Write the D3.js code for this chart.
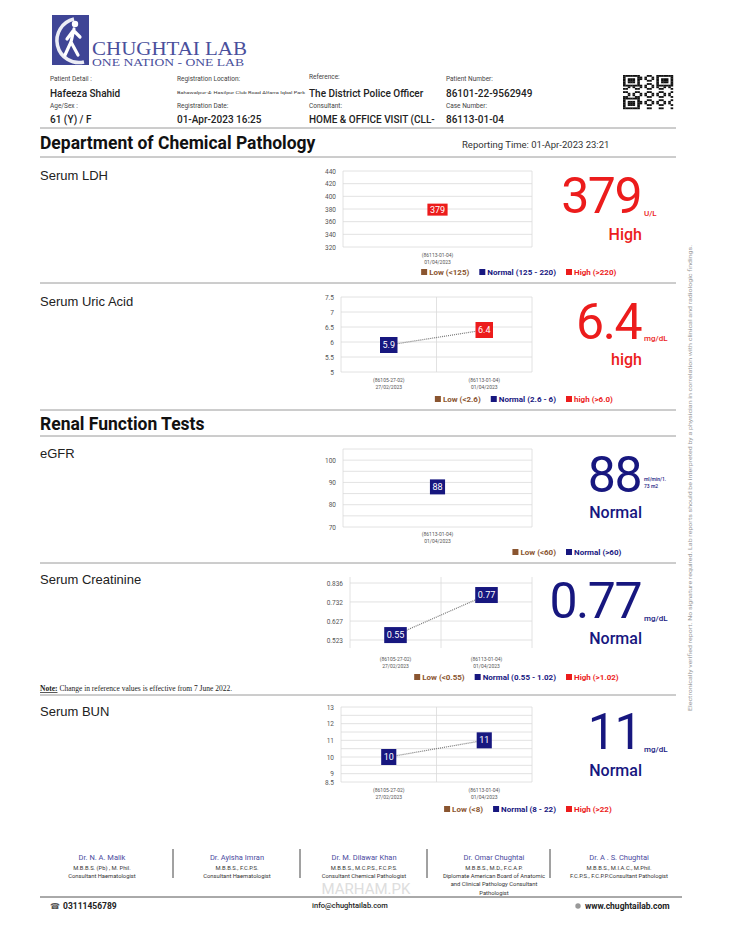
<!DOCTYPE html>
<html>
<head>
<meta charset="utf-8">
<script src="https://cdn.jsdelivr.net/npm/d3@7"></script>
<style>
  body { margin: 0; background: #fff; }
  text { font-family: Roboto, "Liberation Sans", sans-serif; }
</style>
</head>
<body>
<div class="chart"></div>
<script>
// ---- report data ----
const ldhCases = ["(86113-01-04)"];
const ldhDates = ["01/04/2023"];
const ldhValues = [379];
const ldhStatus = ["High"];
const ldhTicks = [320, 340, 360, 380, 400, 420, 440];
const ldhLegend = ["Low (<125)", "Normal (125 - 220)", "High (>220)"];

const uricCases = ["(86105-27-02)", "(86113-01-04)"];
const uricDates = ["27/02/2023", "01/04/2023"];
const uricValues = [5.9, 6.4];
const uricStatus = ["Normal", "High"];
const uricTicks = [5, 5.5, 6, 6.5, 7, 7.5];
const uricLegend = ["Low (<2.6)", "Normal (2.6 - 6)", "high (>6.0)"];

const egfrCases = ["(86113-01-04)"];
const egfrDates = ["01/04/2023"];
const egfrValues = [88];
const egfrStatus = ["Normal"];
const egfrTicks = [70, 80, 90, 100];
const egfrGrid = [70, 75, 80, 85, 90, 95, 100, 105];
const egfrLegend = ["Low (<60)", "Normal (>60)"];

const creatCases = ["(86105-27-02)", "(86113-01-04)"];
const creatDates = ["27/02/2023", "01/04/2023"];
const creatValues = [0.55, 0.77];
const creatStatus = ["Normal", "Normal"];
const creatTicks = [0.523, 0.627, 0.732, 0.836];
const creatLegend = ["Low (<0.55)", "Normal (0.55 - 1.02)", "High (>1.02)"];

const bunCases = ["(86105-27-02)", "(86113-01-04)"];
const bunDates = ["27/02/2023", "01/04/2023"];
const bunValues = [10, 11];
const bunStatus = ["Normal", "Normal"];
const bunTicks = [8.5, 9, 10, 11, 12, 13];
const bunGrid = [8.5, 9, 9.5, 10, 10.5, 11, 11.5, 12, 12.5, 13];
const bunLegend = ["Low (<8)", "Normal (8 - 22)", "High (>22)"];

const doctorNames = ["Dr. N. A. Malik", "Dr. Ayisha Imran", "Dr. M. Dilawar Khan", "Dr. Omar Chughtai", "Dr. A . S. Chughtai"];
const doctorLines = [
  ["M.B.B.S. (Pb) , M. Phil.", "Consultant Haematologist"],
  ["M.B.B.S., F.C.P.S.", "Consultant Haematologist"],
  ["M.B.B.S., M.C.P.S., F.C.P.S.", "Consultant Chemical Pathologist"],
  ["M.B.B.S., M.D., F.C.A.P.", "Diplomate American Board of Anatomic", "and Clinical Pathology Consultant", "Pathologist"],
  ["M.B.B.S., M.I.A.C., M.Phil.", "F.C.P.S., F.C.P.P.Consultant Pathologist"]
];

const RED = "#ec1c1c", NAVY = "#17177f", BROWN = "#8a5530";
const statusColor = s => s.toLowerCase() === "high" ? RED : (s.toLowerCase() === "low" ? BROWN : NAVY);
const legendColors = [BROWN, NAVY, RED];

const svg = d3.select(".chart").append("svg")
  .attr("width", 750)
  .attr("height", 938);

svg.append("rect").attr("width", 750).attr("height", 938).attr("fill", "#fff");

// ---- logo ----
const logo = svg.append("g");
logo.append("rect").attr("x", 52).attr("y", 15).attr("width", 37).attr("height", 50).attr("fill", "#3f4596");
logo.append("path")
  .attr("d", "M74,19 A21,21 0 0,0 84,62")
  .attr("stroke", "#fff").attr("stroke-width", 3.5).attr("fill", "none").attr("opacity", 0.9);
logo.append("circle").attr("cx", 75).attr("cy", 24).attr("r", 3.2).attr("fill", "#fff");
logo.append("path")
  .attr("d", "M74,29 L71,42 L65,55 M71,42 L78,55 M73,31 L67,39 M74,31 L80,37")
  .attr("stroke", "#fff").attr("stroke-width", 3.2).attr("stroke-linecap", "round").attr("fill", "none");
logo.append("text").attr("x", 92).attr("y", 55)
  .attr("font-size", 18).attr("fill", "#4a4f9c")
  .attr("textLength", 155).attr("lengthAdjust", "spacingAndGlyphs")
  .style("font-family", "'Liberation Serif', serif")
  .text("CHUGHTAI LAB");
logo.append("text").attr("x", 92).attr("y", 66)
  .attr("font-size", 9.5).attr("fill", "#4a4f9c")
  .attr("textLength", 152).attr("lengthAdjust", "spacingAndGlyphs")
  .style("font-family", "'Liberation Serif', serif")
  .text("ONE NATION - ONE LAB");

// ---- patient details ----
const infoLabels = [
  [50, 81, "Patient Detail :"], [177, 81, "Registration Location:"], [309, 79, "Reference:"], [446, 81, "Patient Number:"],
  [50, 108, "Age/Sex :"], [177, 108, "Registration Date:"], [309, 108, "Consultant:"], [446, 108, "Case Number:"]
];
const infoValues = [
  [50, 97, "Hafeeza Shahid"], [309, 97, "The District Police Officer"], [446, 97, "86101-22-9562949"],
  [50, 123, "61 (Y) / F"], [177, 123, "01-Apr-2023 16:25"], [309, 123, "HOME & OFFICE VISIT (CLL-"], [446, 123, "86113-01-04"]
];
svg.selectAll(".infoLabel").data(infoLabels).enter().append("text")
  .attr("x", d => d[0]).attr("y", d => d[1])
  .attr("font-size", 6.5).attr("fill", "#444")
  .text(d => d[2]);
svg.selectAll(".infoValue").data(infoValues).enter().append("text")
  .attr("x", d => d[0]).attr("y", d => d[1])
  .attr("font-size", 10).attr("font-weight", 500).attr("fill", "#222")
  .text(d => d[2]);
svg.append("text").attr("x", 177).attr("y", 94)
  .attr("font-size", 4).attr("fill", "#333")
  .attr("textLength", 128).attr("lengthAdjust", "spacingAndGlyphs")
  .text("Bahawalpur-4: Hasilpur Club Road Alfarra Iqbal Park");

// qr code (decorative)
const qr = svg.append("g").attr("transform", "translate(623,75)");
const qn = 21, qw = 50 / qn, qh = 34 / qn;
for (let i = 0; i < qn; i++) {
  for (let j = 0; j < qn; j++) {
    const inFinder = (i < 7 && j < 7) || (i < 7 && j >= qn - 7) || (i >= qn - 7 && j < 7);
    let on;
    if (inFinder) {
      const ii = i >= qn - 7 ? i - (qn - 7) : i, jj = j >= qn - 7 ? j - (qn - 7) : j;
      on = ii === 0 || ii === 6 || jj === 0 || jj === 6 || (ii >= 2 && ii <= 4 && jj >= 2 && jj <= 4);
    } else {
      on = ((i * 7 + j * 11 + i * j) % 5) < 2;
    }
    if (on) qr.append("rect").attr("x", j * qw).attr("y", i * qh).attr("width", qw + 0.2).attr("height", qh + 0.2).attr("fill", "#111");
  }
}

// ---- headings and separators ----
const sepLines = [128, 157, 283, 410, 436, 563, 695];
svg.selectAll(".sep").data(sepLines).enter().append("line")
  .attr("x1", 40).attr("x2", 676).attr("y1", d => d).attr("y2", d => d)
  .attr("stroke", "#9a9a9a").attr("stroke-width", 1);

svg.append("text").attr("x", 40).attr("y", 149)
  .attr("font-size", 17.5).attr("font-weight", 700).attr("fill", "#111")
  .text("Department of Chemical Pathology");
svg.append("text").attr("x", 462).attr("y", 148)
  .attr("font-size", 9.5).attr("fill", "#333")
  .text("Reporting Time:  01-Apr-2023 23:21");
svg.append("text").attr("x", 40).attr("y", 430)
  .attr("font-size", 17.5).attr("font-weight", 700).attr("fill", "#111")
  .text("Renal Function Tests");

// ---- one test block ----
function drawTest(t) {
  const g = svg.append("g");
  const x = d3.scaleBand().domain(t.cases).range([t.left, t.right]);
  const y = d3.scaleLinear().domain(t.domain).range([t.bottom, t.top]);

  g.append("text").attr("x", 40).attr("y", t.titleY)
    .attr("font-size", 13).attr("fill", "#222")
    .style("font-family", "'Liberation Sans', Arial, sans-serif")
    .text(t.title);

  // gridlines
  g.selectAll(".grid").data(t.grid).enter().append("line")
    .attr("x1", t.left).attr("x2", t.right)
    .attr("y1", d => y(d)).attr("y2", d => y(d))
    .attr("stroke", "#dadada").attr("stroke-width", 0.8);
  const edges = [t.left, t.right].concat(t.cases.slice(1).map(c => x(c)));
  g.selectAll(".vgrid").data(edges).enter().append("line")
    .attr("x1", d => d).attr("x2", d => d)
    .attr("y1", t.top).attr("y2", t.bottom)
    .attr("stroke", "#dadada").attr("stroke-width", 0.8);

  // y axis
  const yAxis = d3.axisLeft(y).tickValues(t.ticks).tickSize(0).tickPadding(7).tickFormat(d => d);
  g.append("g").attr("transform", `translate(${t.left},0)`).call(yAxis)
    .call(a => a.select(".domain").remove())
    .selectAll("text").attr("font-size", 6.5).attr("fill", "#555");

  // x axis, two-line labels
  const xAxis = d3.axisBottom(x).tickSize(0).tickPadding(0);
  const xg = g.append("g").attr("transform", `translate(0,${t.xLabelY})`).call(xAxis);
  xg.select(".domain").remove();
  xg.selectAll("text").attr("font-size", 5).attr("fill", "#555").attr("dy", 0)
    .each(function (d, i) {
      d3.select(this).append("tspan").attr("x", 0).attr("dy", 7).text(t.dates[i]);
    });

  const pts = t.values.map((v, i) => [x(t.cases[i]) + x.bandwidth() / 2, y(v)]);
  if (pts.length > 1) {
    g.append("path").attr("d", d3.line()(pts))
      .attr("stroke", "#777").attr("stroke-width", 1.2)
      .attr("stroke-dasharray", "1,1").attr("fill", "none");
  }

  // value boxes
  t.values.forEach((v, i) => {
    const bx = g.append("g").attr("transform", `translate(${pts[i][0]},${pts[i][1]})`);
    const r = bx.append("rect").attr("fill", statusColor(t.status[i]));
    const tx = bx.append("text").attr("text-anchor", "middle").attr("dy", "0.35em")
      .attr("font-size", t.boxFont).attr("fill", "#fff").text(v);
    const w = tx.node().getComputedTextLength() + 5;
    r.attr("x", -w / 2).attr("y", -t.boxH / 2).attr("width", w).attr("height", t.boxH);
  });

  // legend, laid out right to left with last item at x=566
  const items = t.legend.map((l, i) => ({ label: l, color: legendColors[i] }));
  let nextX = 566;
  for (let i = items.length - 1; i >= 0; i--) {
    const it = g.append("g");
    const tx = it.append("text").attr("x", 8).attr("y", 3)
      .attr("font-size", 8).attr("font-weight", 700).attr("fill", items[i].color).text(items[i].label);
    it.append("rect").attr("x", 0).attr("y", -3).attr("width", 6).attr("height", 6).attr("fill", items[i].color);
    const w = 8 + tx.node().getComputedTextLength();
    const startX = i === items.length - 1 ? nextX : nextX - 10 - w;
    it.attr("transform", `translate(${startX},${t.legendY})`);
    nextX = startX;
  }

  // big result
  const last = t.values[t.values.length - 1];
  const col = statusColor(t.status[t.status.length - 1]);
  g.append("text").attr("x", 641).attr("y", t.bigY).attr("text-anchor", "end")
    .attr("font-size", 50).attr("letter-spacing", -1.5).attr("fill", col).text(last);
  t.unit.forEach((u, i) => {
    g.append("text").attr("x", 644).attr("y", t.unitY + i * 7)
      .attr("font-size", t.unitFont).attr("font-weight", 500).attr("fill", col).text(u);
  });
  g.append("text").attr("x", 642).attr("y", t.statusY).attr("text-anchor", "end")
    .attr("font-size", 16).attr("font-weight", 500).attr("fill", col).text(t.statusText);
}

drawTest({ title: "Serum LDH", titleY: 180, cases: ldhCases, dates: ldhDates, values: ldhValues, status: ldhStatus,
  ticks: ldhTicks, grid: ldhTicks, domain: [320, 440], legend: ldhLegend,
  left: 343, right: 532, top: 171, bottom: 247, xLabelY: 257, legendY: 272, boxH: 12, boxFont: 9,
  bigY: 213, unit: ["U/L"], unitY: 216, unitFont: 8, statusY: 240, statusText: "High" });

drawTest({ title: "Serum Uric Acid", titleY: 306, cases: uricCases, dates: uricDates, values: uricValues, status: uricStatus,
  ticks: uricTicks, grid: uricTicks, domain: [5, 7.5], legend: uricLegend,
  left: 341, right: 532, top: 297, bottom: 372, xLabelY: 382, legendY: 399, boxH: 16, boxFont: 9,
  bigY: 339, unit: ["mg/dL"], unitY: 341, unitFont: 8, statusY: 365, statusText: "high" });

drawTest({ title: "eGFR", titleY: 458, cases: egfrCases, dates: egfrDates, values: egfrValues, status: egfrStatus,
  ticks: egfrTicks, grid: egfrGrid, domain: [70, 105], legend: egfrLegend,
  left: 343, right: 532, top: 449, bottom: 527, xLabelY: 536, legendY: 552, boxH: 15, boxFont: 9,
  bigY: 492, unit: ["ml/min/1.", "73 m2"], unitY: 481, unitFont: 5, statusY: 518, statusText: "Normal" });

drawTest({ title: "Serum Creatinine", titleY: 584, cases: creatCases, dates: creatDates, values: creatValues, status: creatStatus,
  ticks: creatTicks, grid: creatTicks, domain: [0.479, 0.869], legend: creatLegend,
  left: 350, right: 532, top: 577, bottom: 648, xLabelY: 661, legendY: 677, boxH: 16, boxFont: 9,
  bigY: 618, unit: ["mg/dL"], unitY: 621, unitFont: 8, statusY: 644, statusText: "Normal" });

drawTest({ title: "Serum BUN", titleY: 716, cases: bunCases, dates: bunDates, values: bunValues, status: bunStatus,
  ticks: bunTicks, grid: bunGrid, domain: [8.5, 13], legend: bunLegend,
  left: 341, right: 532, top: 707, bottom: 782, xLabelY: 792, legendY: 809, boxH: 16, boxFont: 9,
  bigY: 749, unit: ["mg/dL"], unitY: 752, unitFont: 8, statusY: 776, statusText: "Normal" });

// note
const note = svg.append("text").attr("x", 40).attr("y", 691)
  .attr("font-size", 7.5).attr("fill", "#222")
  .style("font-family", "'Liberation Serif', serif");
note.append("tspan").attr("font-weight", 700).attr("text-decoration", "underline").text("Note:");
note.append("tspan").text(" Change in reference values is effective from 7 June 2022.");

// side disclaimer
svg.append("text")
  .attr("transform", "translate(692,478) rotate(-90)")
  .attr("text-anchor", "middle").attr("font-size", 6).attr("fill", "#9a9a9a")
  .attr("textLength", 466).attr("lengthAdjust", "spacingAndGlyphs")
  .text("Electronically verified report. No signature required. Lab reports should be interpreted by a physician in correlation with clinical and radiologic findings.");

// ---- footer ----
const docX = [102, 237, 364, 494, 619];
const dividers = [173, 300, 427, 550];
svg.selectAll(".div").data(dividers).enter().append("line")
  .attr("x1", d => d).attr("x2", d => d).attr("y1", 849).attr("y2", 878)
  .attr("stroke", "#444").attr("stroke-width", 1);
svg.selectAll(".doc").data(doctorNames).enter().append("text")
  .attr("x", (d, i) => docX[i]).attr("y", 860).attr("text-anchor", "middle")
  .attr("font-size", 7.5).attr("fill", "#4b4ba0").text(d => d);
doctorLines.forEach((lines, i) => {
  lines.forEach((l, k) => {
    svg.append("text").attr("x", docX[i]).attr("y", 870 + k * 8.2).attr("text-anchor", "middle")
      .attr("font-size", 5.8).attr("fill", "#333").text(l);
  });
});
svg.append("text").attr("x", 366).attr("y", 894).attr("text-anchor", "middle")
  .attr("font-size", 15).attr("fill", "#d6d6d6").attr("opacity", 0.8).text("MARHAM.PK");
svg.append("line").attr("x1", 40).attr("x2", 682).attr("y1", 897).attr("y2", 897)
  .attr("stroke", "#555").attr("stroke-width", 1);
svg.append("text").attr("x", 50).attr("y", 909).attr("font-size", 8).attr("fill", "#555")
  .style("font-family", "'DejaVu Sans'").text("\u260E");
svg.append("text").attr("x", 63).attr("y", 909).attr("font-size", 8.5).attr("font-weight", 700).attr("fill", "#222").text("03111456789");
svg.append("text").attr("x", 350).attr("y", 908).attr("text-anchor", "middle").attr("font-size", 7.5).attr("font-weight", 500).attr("fill", "#222").text("info@chughtailab.com");
svg.append("circle").attr("cx", 578).attr("cy", 906).attr("r", 2.7).attr("fill", "#999");
svg.append("text").attr("x", 585).attr("y", 909).attr("font-size", 8.5).attr("font-weight", 700).attr("fill", "#222").text("www.chughtailab.com");
</script>
</body>
</html>
